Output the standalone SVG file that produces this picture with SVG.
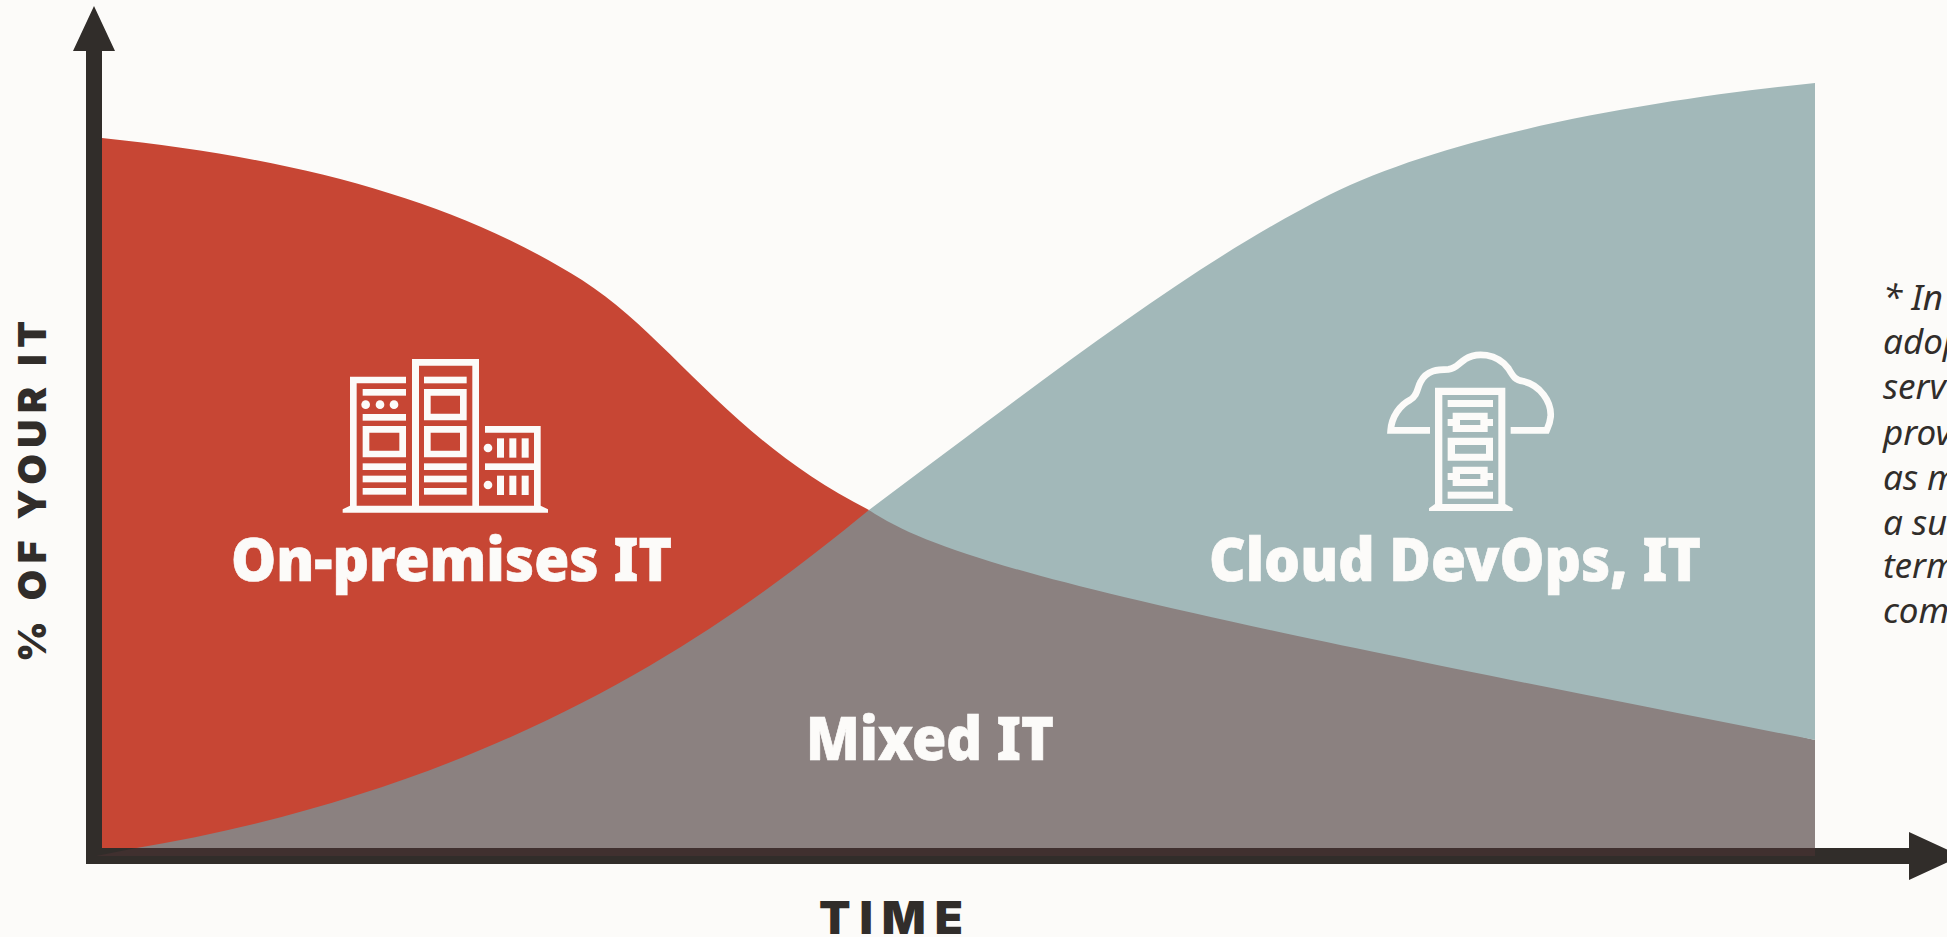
<svg xmlns="http://www.w3.org/2000/svg" width="1947" height="937" viewBox="0 0 1947 937">
<style>
.w{fill:#FCFBF9}
.ws{fill:none;stroke:#FCFBF9;stroke-width:20}
.big{font-family:"Noto Sans","Open Sans",sans-serif;font-weight:900;font-size:60px;fill:#FCFBF9;stroke:#FCFBF9;stroke-width:.7}
.ax{font-family:"Inter","Noto Sans",sans-serif;font-weight:900;fill:#312D2A}
.note{font-family:"Noto Sans","Open Sans",sans-serif;font-style:italic;font-weight:400;font-size:35px;fill:#312D2A}
</style>
<defs>
<g id="conn" class="w">
<path fill-rule="evenodd" d="M788,218H893V237H909V258H893V276H788V258H773V237H788ZM810,240V255H871V240Z"/>
</g>
</defs>
<rect width="1947" height="937" fill="#FCFBF9"/>
<g id="areas">
<path id="area-mixed" d="M869,510L1815,740V849H131Z" fill="#8B8180"/>
<path id="area-cloud" d="M869,510C1050,375 1190,265 1329,195C1460,130 1670,98 1815,83V740C1150,610 950,565 869,510Z" fill="#A2B8B9"/>
<path id="area-onprem" d="M102,138C295,158 455,200 582,280C672,338 730,440 869,510C735,620 515,785 131,849H102Z" fill="#C74634"/>
</g>
<g id="connectors">
<path id="axis-y" d="M86,864V51H73L94,6L115,51H102V848H1909V832L1961,856L1909,880V864Z" fill="#312D2A"/>
<path id="axis-band" d="M96,856L136,848H1815V856Z" fill="#40302F"/>
</g>
<g id="node-onprem">
<g transform="translate(320,340) scale(.33333)" class="w">
<path fill-rule="evenodd" d="M90,110H258V130H110V497H276V57H477V497H642V278H495V258H662V497L684,508V518H68V508L90,497ZM297,77V497H457V77Z"/>
<rect x="495" y="370" width="147" height="20"/>
<rect x="128" y="147" width="130" height="20"/>
<circle cx="137" cy="194" r="13"/><circle cx="180" cy="194" r="13"/><circle cx="222" cy="194" r="13"/>
<rect x="128" y="222" width="130" height="20"/>
<path fill-rule="evenodd" d="M128,258H258V352H128ZM148,278V332H238V278Z"/>
<rect x="128" y="370" width="130" height="20"/><rect x="128" y="407" width="130" height="20"/><rect x="128" y="444" width="130" height="20"/>
<rect x="312" y="110" width="128" height="20"/>
<path fill-rule="evenodd" d="M312,147H440V241H312ZM332,167V221H420V167Z"/>
<path fill-rule="evenodd" d="M312,258H440V352H312ZM332,278V332H420V278Z"/>
<rect x="312" y="370" width="128" height="20"/><rect x="312" y="407" width="128" height="20"/><rect x="312" y="444" width="128" height="20"/>
<circle cx="504" cy="324" r="13"/><rect x="531" y="295" width="21" height="58"/><rect x="568" y="295" width="21" height="58"/><rect x="605" y="295" width="21" height="58"/>
<circle cx="504" cy="435" r="13"/><rect x="531" y="407" width="21" height="58"/><rect x="568" y="407" width="21" height="58"/><rect x="605" y="407" width="21" height="58"/>
</g>
<text class="big" x="231" y="581" textLength="441" lengthAdjust="spacingAndGlyphs">On-premises IT</text>
</g>
<g id="node-cloud">
<g transform="translate(1190,340) scale(.33333)">
<path class="ws" d="M720,271H602C605,230 630,195 660,180C685,165 680,145 692,125C710,90 745,88 775,88C800,85 805,70 825,58C860,35 920,40 955,85C970,110 975,120 1000,124C1050,135 1085,185 1082,230C1080,250 1075,260 1070,271H962"/>
<g class="w">
<path fill-rule="evenodd" d="M735,143H946V492L968,505V513H717V505L735,492ZM757,165V492H925V165Z"/>
<rect x="773" y="180" width="136" height="21"/>
<use href="#conn"/>
<path fill-rule="evenodd" d="M773,293H909V362H773ZM795,315V341H888V315Z"/>
<use href="#conn" y="162"/>
<rect x="773" y="455" width="136" height="21"/>
</g>
</g>
<text class="big" x="1209" y="581" textLength="492" lengthAdjust="spacingAndGlyphs">Cloud DevOps, IT</text>
</g>
<g id="node-mixed">
<text class="big" x="806" y="760" textLength="248" lengthAdjust="spacingAndGlyphs">Mixed IT</text>
</g>
<g id="labels">
<text class="ax" font-size="46" x="819" y="934" textLength="144">TIME</text>
<text class="ax" font-size="39" transform="translate(46,662) rotate(-90)" textLength="341">% OF YOUR IT</text>
</g>
<g id="note" class="note">
<text x="1883" y="310">* In</text>
<text x="1883" y="354">adop</text>
<text x="1883" y="399">serv</text>
<text x="1883" y="445">prov</text>
<text x="1883" y="490">as m</text>
<text x="1883" y="535">a su</text>
<text x="1883" y="578">term</text>
<text x="1883" y="623">com</text>
</g>
</svg>
